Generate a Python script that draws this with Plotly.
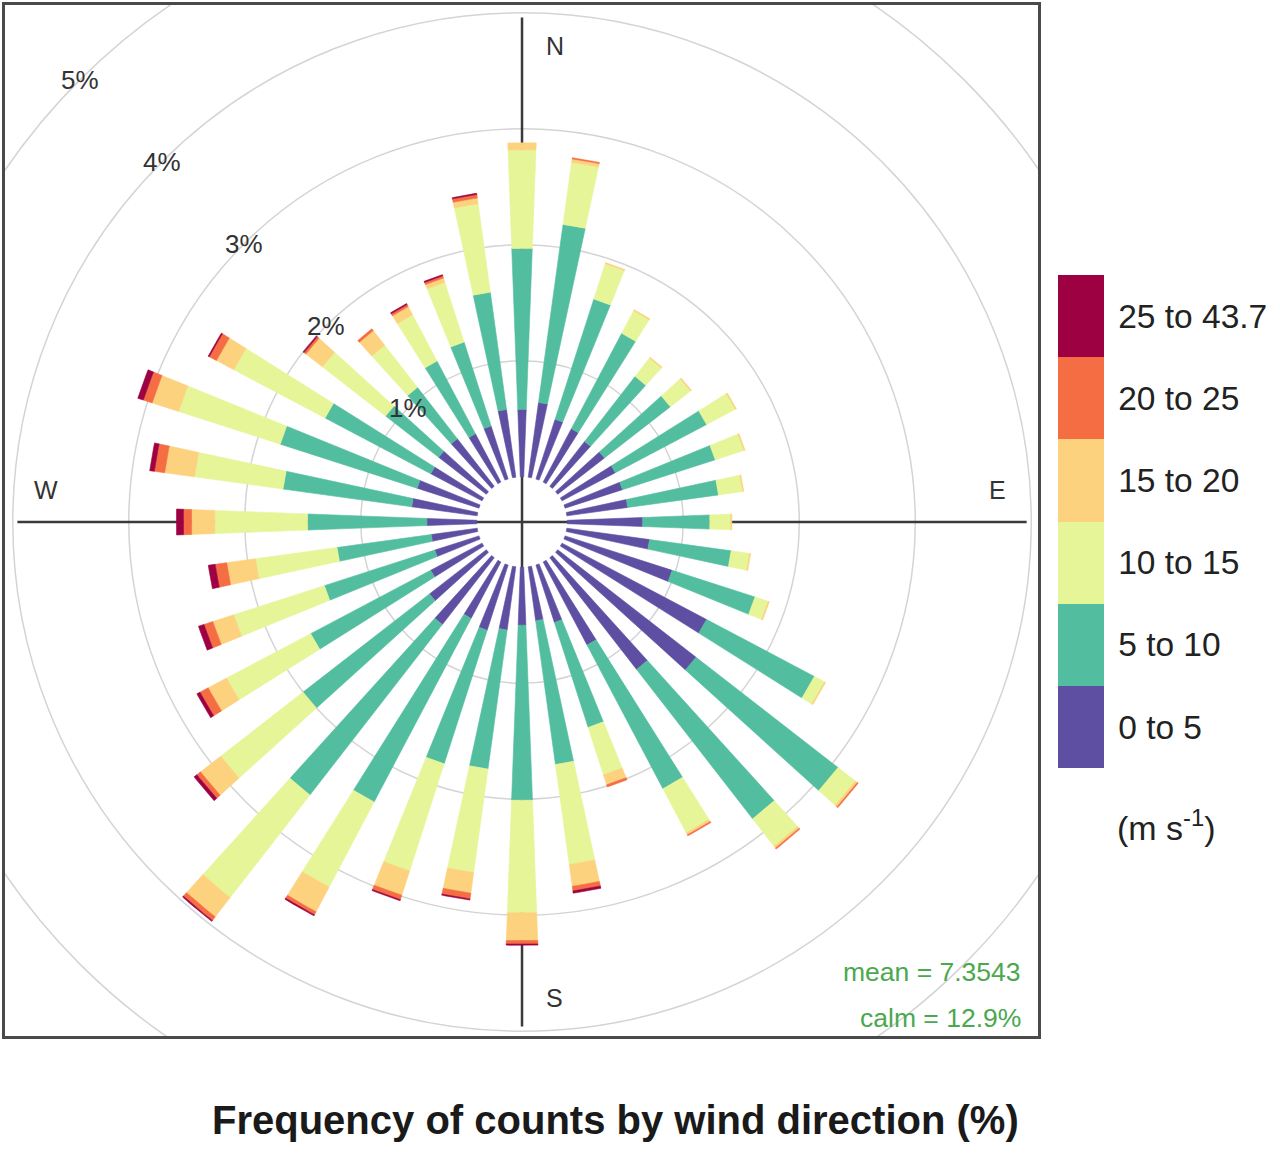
"""Wind rose: frequency of counts by wind direction, stacked by wind speed bin."""
import numpy as np
import plotly.graph_objects as go

# direction of each paddle (degrees, clockwise from N)
directions = list(range(10, 361, 10))

speed_bins = ["0 to 5", "5 to 10", "10 to 15", "15 to 20", "20 to 25", "25 to 43.7"]
bin_colours = ["#5e4fa2", "#52bd9f", "#e6f598", "#fdd27f", "#f46d43", "#9e0142"]

# frequency (%) per direction for each speed bin, 10..360 deg
freq_0_5 = [0.65, 0.54, 0.52, 0.49, 0.51, 0.52, 0.52, 0.53, 0.65, 0.72,
            0.97, 1.41, 1.51, 1.22, 0.81, 0.52, 0.47, 0.50, 0.55, 0.59,
            0.55, 0.73, 0.62, 0.50, 0.40, 0.40, 0.43, 0.57, 0.56, 0.50,
            0.52, 0.52, 0.47, 0.48, 0.59, 0.58]
freq_5_10 = [1.55, 1.09, 0.93, 0.71, 0.72, 0.89, 0.84, 0.79, 0.58, 0.71,
             0.75, 1.05, 1.55, 1.63, 1.40, 0.95, 1.25, 1.51, 1.21, 1.21,
             1.79, 1.86, 1.38, 1.17, 1.00, 0.82, 1.03, 1.12, 1.24, 1.03,
             0.58, 0.56, 0.71, 0.76, 1.02, 1.39]
freq_10_15 = [0.54, 0.32, 0.22, 0.20, 0.22, 0.28, 0.26, 0.21, 0.18, 0.16,
              0.12, 0.10, 0.19, 0.30, 0.43, 0.43, 0.87, 0.97, 0.90, 0.97,
              0.83, 1.12, 0.90, 0.82, 0.82, 0.71, 0.80, 0.77, 0.92, 0.89,
              0.69, 0.46, 0.45, 0.54, 0.77, 0.85]
freq_15_20 = [0.03, 0.01, 0.01, 0.01, 0.01, 0.01, 0.01, 0.01, 0.01, 0.01,
              0.01, 0.01, 0.02, 0.02, 0.02, 0.09, 0.19, 0.24, 0.18, 0.22,
              0.24, 0.21, 0.22, 0.18, 0.19, 0.25, 0.20, 0.26, 0.24, 0.17,
              0.18, 0.16, 0.08, 0.04, 0.05, 0.06]
freq_20_25 = [0.01, 0.00, 0.00, 0.00, 0.00, 0.00, 0.00, 0.00, 0.00, 0.00,
              0.00, 0.00, 0.01, 0.01, 0.01, 0.02, 0.04, 0.03, 0.05, 0.04,
              0.03, 0.04, 0.04, 0.08, 0.08, 0.10, 0.07, 0.09, 0.08, 0.07,
              0.02, 0.02, 0.02, 0.02, 0.03, 0.00]
freq_25_plus = [0.00, 0.00, 0.00, 0.00, 0.00, 0.00, 0.00, 0.00, 0.00, 0.00,
                0.00, 0.00, 0.00, 0.00, 0.00, 0.00, 0.02, 0.01, 0.01, 0.01,
                0.01, 0.01, 0.03, 0.03, 0.05, 0.06, 0.06, 0.04, 0.05, 0.01,
                0.01, 0.00, 0.01, 0.01, 0.01, 0.00]
series = [freq_0_5, freq_5_10, freq_10_15, freq_15_20, freq_20_25, freq_25_plus]

ring_levels = [1, 2, 3, 4, 5]
cardinals = ["N", "E", "S", "W"]
mean_speed = 7.3543
calm_pct = 12.9

OFFSET = 0.39      # calm hole, in % units
HALF_W = 2.15      # half width of each paddle, degrees
FONT = "Liberation Sans, Arial, sans-serif"

fig = go.Figure()

cum = np.zeros(len(directions))
for name, colour, vals in zip(speed_bins, bin_colours, series):
    vals = np.array(vals)
    xs, ys = [], []
    for d, lo, v in zip(directions, cum, vals):
        if v <= 0:
            continue
        ang = np.radians(np.linspace(d - HALF_W, d + HALF_W, 8))
        r_in, r_out = OFFSET + lo, OFFSET + lo + v
        px = list(r_out * np.sin(ang)) + list(r_in * np.sin(ang[::-1]))
        py = list(r_out * np.cos(ang)) + list(r_in * np.cos(ang[::-1]))
        xs += px + [px[0], None]
        ys += py + [py[0], None]
    cum = cum + vals
    fig.add_trace(go.Scatter(x=xs, y=ys, mode="lines", fill="toself", fillcolor=colour,
                             line=dict(color=colour, width=0.6), hoverinfo="skip",
                             name=name, showlegend=False))

# discrete colour key
n = len(bin_colours)
cscale = []
for i, c in enumerate(bin_colours):
    cscale += [[i / n, c], [(i + 1) / n, c]]
fig.add_trace(go.Scatter(
    x=[None], y=[None], mode="markers", hoverinfo="skip", showlegend=False,
    marker=dict(color=[0], colorscale=cscale, cmin=-0.5, cmax=n - 0.5, showscale=True,
                colorbar=dict(x=1058 / 1280, xanchor="left", xpad=0,
                              y=(1159 - 521.5) / 1159, yanchor="middle", ypad=0,
                              len=493, lenmode="pixels", thickness=46, thicknessmode="pixels",
                              outlinewidth=0, tickvals=list(range(n)), ticktext=speed_bins,
                              ticks="outside", ticklen=8, tickcolor="rgba(0,0,0,0)",
                              tickfont=dict(size=33.5, color="#222", family=FONT))),
))

# rings and labels
shapes = []
annotations = []
for k in ring_levels:
    R = OFFSET + k
    shapes.append(dict(type="circle", xref="x", yref="y", x0=-R, x1=R, y0=-R, y1=R,
                       line=dict(color="#d4d4d4", width=1.5), layer="below"))
    a = np.radians(315)
    annotations.append(dict(x=R * np.sin(a), y=R * np.cos(a), xref="x", yref="y",
                            text=f"{k}%", showarrow=False,
                            font=dict(size=26, color="#333", family=FONT)))

L = 4.35
shapes.append(dict(type="line", xref="x", yref="y", x0=0, x1=0, y0=-L, y1=L,
                   line=dict(color="#3a3a3a", width=2.5), layer="below"))
shapes.append(dict(type="line", xref="x", yref="y", x0=-L, x1=L, y0=0, y1=0,
                   line=dict(color="#3a3a3a", width=2.5), layer="below"))

card_r, card_s = 4.1, 0.28
card_pos = {"N": (card_s, card_r), "E": (card_r, card_s), "S": (card_s, -card_r), "W": (-card_r, card_s)}
for c in cardinals:
    cx, cy = card_pos[c]
    annotations.append(dict(x=cx, y=cy, xref="x", yref="y", text=c, showarrow=False,
                            font=dict(size=25, color="#333", family=FONT)))

annotations.append(dict(x=1023 / 1280, y=(1159 - 972) / 1159, xref="paper", yref="paper",
                        xanchor="right", yanchor="middle", showarrow=False,
                        text=f"mean = {mean_speed}", font=dict(size=26.5, color="#4aa84e", family=FONT)))
annotations.append(dict(x=1023 / 1280, y=(1159 - 1018) / 1159, xref="paper", yref="paper",
                        xanchor="right", yanchor="middle", showarrow=False,
                        text=f"calm = {calm_pct}%", font=dict(size=26.5, color="#4aa84e", family=FONT)))
annotations.append(dict(x=1115 / 1280, y=(1159 - 825) / 1159, xref="paper", yref="paper",
                        xanchor="left", yanchor="middle", showarrow=False,
                        text="(m s<sup>-1</sup>)", font=dict(size=34, color="#222", family=FONT)))
annotations.append(dict(x=615 / 1280, y=(1159 - 1120) / 1159, xref="paper", yref="paper",
                        xanchor="center", yanchor="middle", showarrow=False,
                        text="<b>Frequency of counts by wind direction (%)</b>",
                        font=dict(size=40, color="#1a1a1a", family=FONT)))

axis_common = dict(showgrid=False, zeroline=False, showticklabels=False, ticks="",
                   showline=True, mirror=True, linecolor="#4a4a4a", linewidth=2.5, fixedrange=True)
fig.update_layout(
    width=1280, height=1159,
    margin=dict(l=0, r=0, t=0, b=0),
    paper_bgcolor="white", plot_bgcolor="white",
    xaxis=dict(domain=[5 / 1280, 1038 / 1280], range=[-4.457, 4.448], **axis_common),
    yaxis=dict(domain=[123 / 1159, 1154 / 1159], range=[-4.431, 4.457], **axis_common),
    shapes=shapes, annotations=annotations,
)

# page body has a default 8px margin; drop it so the figure sits at the window origin
fig.write_html("out.html", config={"displayModeBar": False},
               post_script="document.body.style.margin='0px';")
